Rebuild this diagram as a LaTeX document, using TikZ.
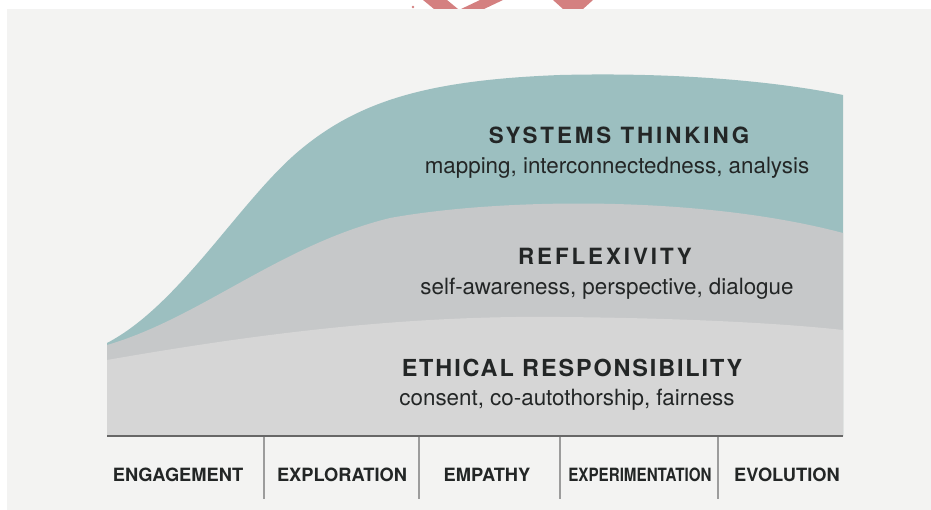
\documentclass[tikz,border=0pt]{standalone}
\usepackage{fontspec}
\usepackage{graphicx}
\setmainfont{TeX Gyre Heros}
\newfontfamily\trackedfont[LetterSpace=13]{TeX Gyre Heros}
\newfontfamily\looserfont[LetterSpace=8]{TeX Gyre Heros}
\definecolor{PageGray}{HTML}{F3F3F2}
\definecolor{TealLayer}{HTML}{9CBFC0}
\definecolor{MidLayer}{HTML}{C6C8C9}
\definecolor{LowLayer}{HTML}{D6D6D6}
\definecolor{InkGray}{HTML}{232626}
\definecolor{AxisGray}{HTML}{676767}
\definecolor{TickGray}{HTML}{9C9C9C}
\definecolor{MarkRed}{HTML}{D48080}

\begin{document}
\begin{tikzpicture}[x=0.03cm, y=-0.03cm]
\tikzset{TitleStyle/.style = {anchor=base, inner sep=0, text=InkGray,
                              font=\trackedfont\bfseries\fontsize{19.1}{22}\selectfont},
         NoteStyle/.style  = {anchor=base, inner sep=0, text=InkGray,
                              font=\fontsize{19.1}{22}\selectfont},
         StageStyle/.style = {anchor=base, inner sep=0, text=InkGray,
                              font=\bfseries\fontsize{15.6}{18}\selectfont},
         TickStyle/.style  = {draw=TickGray, line width=1.1pt}}
\useasboundingbox (0,0) rectangle (931,510);
\fill[PageGray] (7,9) rectangle (931,510);

% cut-off marks at the top edge
\begin{scope}
\clip (0,0) rectangle (931,9);
\fill[MarkRed] (413,7) circle (1.4);
\fill[MarkRed] (423,0) -- (447,0) -- (458,9) -- (434,9) -- cycle;
\fill[MarkRed] (480,0) -- (503,0) -- (484,9) -- (461,9) -- cycle;
\fill[MarkRed] (553,0) -- (593,0) -- (583,9) -- (563,9) -- cycle;
\end{scope}

% layers, back to front
\fill[TealLayer] (107,343) .. controls (180,305) and (240,200) .. (300,150)
  .. controls (360,100) and (430,80) .. (560,75)
  .. controls (680,72) and (780,82) .. (843,95)
  -- (843,436) -- (107,436) -- cycle;
\fill[MidLayer] (107,345) .. controls (200,318) and (280,245) .. (390,218)
  .. controls (500,198) and (700,195) .. (843,233)
  -- (843,436) -- (107,436) -- cycle;
\fill[LowLayer] (107,360) .. controls (250,335) and (400,315) .. (560,317)
  .. controls (680,318) and (780,323) .. (843,330)
  -- (843,436) -- (107,436) -- cycle;

% axis and stage dividers
\coordinate (axisL) at (107,436);
\coordinate (axisR) at (843,436);
\draw[AxisGray, line width=1.7pt] (axisL) -- (axisR);
\draw[TickStyle] (264,437) -- (264,499);
\draw[TickStyle] (419,437) -- (419,499);
\draw[TickStyle] (560,437) -- (560,499);
\draw[TickStyle] (718,437) -- (718,499);

% layer texts
\node[TitleStyle] (systems) at (619,143) {SYSTEMS THINKING};
\node[NoteStyle] (systemsNote) at (617,173) {mapping, interconnectedness, analysis};
\node[TitleStyle] (reflex) at (605,264) {REFLEXIVITY};
\node[NoteStyle] (reflexNote) at (607,294) {self-awareness, perspective, dialogue};
\node[TitleStyle, font=\looserfont\bfseries\fontsize{20}{23}\selectfont] (ethics) at (572,376) {ETHICAL RESPONSIBILITY};
\node[NoteStyle] (ethicsNote) at (567,405) {consent, co-autothorship, fairness};

% stages
\node[StageStyle] (engage) at (178,481) {ENGAGEMENT};
\node[StageStyle] (explore) at (342,481) {EXPLORATION};
\node[StageStyle] (empathy) at (487,481) {EMPATHY};
\node[StageStyle] (experiment) at (640,481) {\scalebox{0.83}[1]{EXPERIMENTATION}};
\node[StageStyle] (evolve) at (787,481) {EVOLUTION};

\end{tikzpicture}
\end{document}
